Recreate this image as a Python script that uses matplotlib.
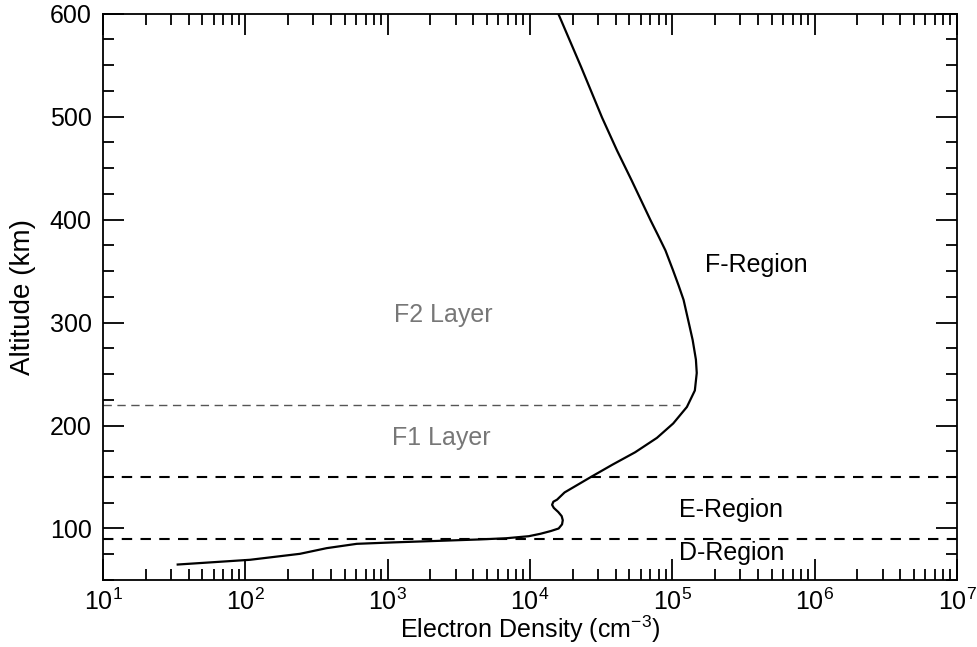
#!/usr/bin/env python3
"""Electron density profile of the ionosphere (altitude vs. density)."""

import matplotlib
matplotlib.use("Agg")
import matplotlib.pyplot as plt
from matplotlib.ticker import LogLocator, MultipleLocator

plt.rcParams["font.family"] = ["Liberation Sans", "DejaVu Sans"]
plt.rcParams["mathtext.fontset"] = "custom"
plt.rcParams["mathtext.rm"] = "Liberation Sans"
plt.rcParams["mathtext.it"] = "Liberation Sans"

# profile, bottom to top
altitude = [65, 69.6, 75.4, 80.9, 85.1, 86.5, 88.0, 89.3, 90.5, 92.5, 94.8,
            97.5, 100, 104, 108, 112, 116, 120, 123, 126, 128, 135, 150,
            162, 174, 188, 202, 218, 234, 251, 264, 283, 296, 322, 336, 351,
            370, 385, 399, 438, 467, 499, 548, 600]
density = [33.5, 108, 242, 373, 607, 1100, 2300, 4300, 6800, 9800, 11800,
           14000, 15900, 16800, 17000, 16700, 15800, 14700, 14300, 14600,
           15500, 17500, 26800, 38000, 54800, 78000, 101500, 126600,
           144000, 148500, 146500, 139000, 132400, 120000, 110700, 101000,
           89500, 79200, 70500, 51800, 40900, 32100, 22900, 15800]

# layer boundaries (km)
boundaries_major = [90, 150]
boundary_f1f2 = 220
boundary_f1f2_end = 1.13e5

labels = ["F2 Layer", "F1 Layer", "F-Region", "E-Region", "D-Region"]
label_x = [2450, 2400, 3.9e5, 2.6e5, 2.6e5]
label_y = [307, 188, 356, 118, 76]
label_colors = ["#777777", "#777777", "black", "black", "black"]

fig, ax = plt.subplots(figsize=(9.77, 6.47), dpi=100)
fig.subplots_adjust(left=0.1054, right=0.9795, top=0.979, bottom=0.1036)

ax.plot(density, altitude, color="black", linewidth=1.6)

for b in boundaries_major:
    ax.axhline(b, color="black", linestyle=(0, (5, 4)), linewidth=1.5)
ax.plot([10, boundary_f1f2_end], [boundary_f1f2, boundary_f1f2],
        color="#555555", linestyle=(0, (6, 4)), linewidth=1.0)

for txt, x, y, c in zip(labels, label_x, label_y, label_colors):
    ax.text(x, y, txt, color=c, fontsize=18, ha="center", va="center")

ax.set_xscale("log")
ax.set_xlim(10, 1e7)
ax.set_ylim(50, 600)
ax.xaxis.set_major_locator(LogLocator(base=10, numticks=10))
ax.xaxis.set_minor_locator(LogLocator(base=10, subs=range(2, 10), numticks=100))
ax.yaxis.set_major_locator(MultipleLocator(100))
ax.yaxis.set_minor_locator(MultipleLocator(25))

ax.tick_params(which="both", direction="in", top=True, right=True,
               labelsize=18, width=1.3)
ax.tick_params(axis="x", pad=6)
ax.tick_params(axis="y", pad=8)
ax.tick_params(which="major", length=15)
ax.tick_params(which="minor", length=8)
for s in ax.spines.values():
    s.set_linewidth(1.3)

ax.set_xlabel("Electron Density (cm$^{-3}$)", fontsize=18, labelpad=-1)
ax.set_ylabel("Altitude (km)", fontsize=20, labelpad=10)

fig.savefig("out.png", dpi=100)
